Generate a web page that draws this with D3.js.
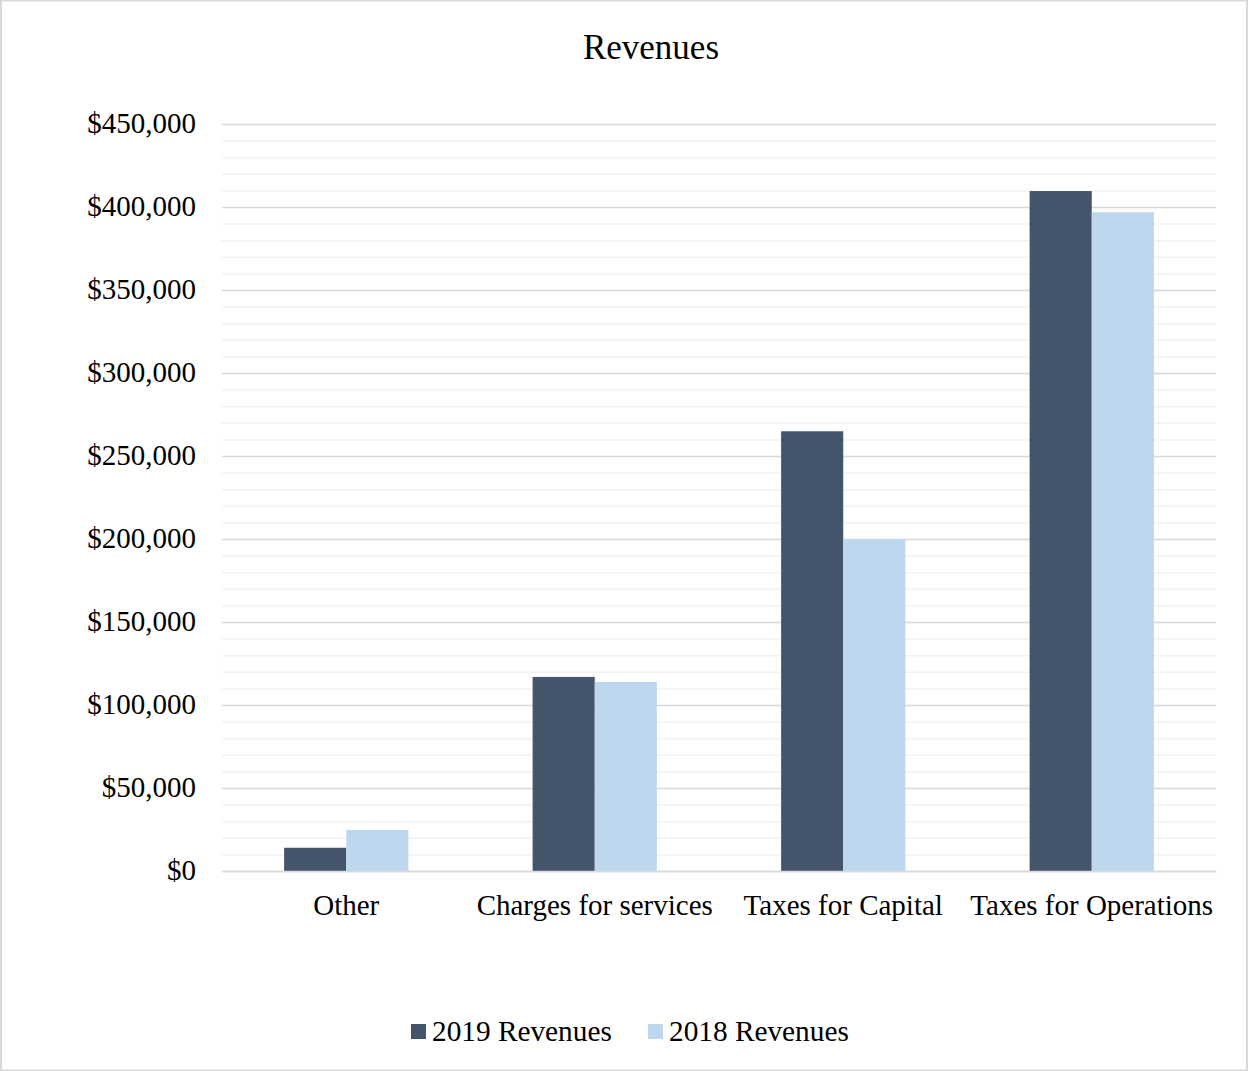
<!DOCTYPE html>
<html>
<head>
<meta charset="utf-8">
<script src="https://cdn.jsdelivr.net/npm/d3@7"></script>
<style>
  html, body { margin: 0; padding: 0; background: #fff; }
  svg text { font-family: "Liberation Serif", "Times New Roman", serif; fill: #000; }
</style>
</head>
<body>
<div id="chart"></div>
<script>
const categories = ['Other', 'Charges for services', 'Taxes for Capital', 'Taxes for Operations'];
const seriesNames = ['2019 Revenues', '2018 Revenues'];
const revenues2019 = [14000, 116900, 264900, 409600];
const revenues2018 = [24700, 113900, 199800, 396800];
const yTicks = [0, 50000, 100000, 150000, 200000, 250000, 300000, 350000, 400000, 450000];
const colors = ['#44546a', '#bdd7ee'];

const W = 1249, H = 1071;
const margin = { top: 124, right: 33, left: 222 };
const width = W - margin.left - margin.right;
const plotH = 871 - margin.top; // plot bottom sits at y=871

const svg = d3.select('#chart').append('svg')
  .attr('width', W)
  .attr('height', H);

// outer border
svg.append('rect')
  .attr('x', 1).attr('y', 0.5)
  .attr('width', W - 3).attr('height', H - 1)
  .attr('fill', '#fff')
  .attr('stroke', '#d9d9d9')
  .attr('stroke-width', 2);

const g = svg.append('g').attr('transform', `translate(${margin.left},${margin.top})`);

const y = d3.scaleLinear().domain([0, 450000]).range([plotH, 0]);
const x0 = d3.scaleBand().domain(categories).range([0, width]).paddingInner(0).paddingOuter(0);
// gap width 100%: bars fill the middle half of each category band
const x1 = d3.scaleBand().domain(seriesNames).range([x0.bandwidth() / 4, x0.bandwidth() * 3 / 4]);

// minor gridlines
g.append('g')
  .call(d3.axisLeft(y).tickValues(d3.range(0, 450001, 10000)).tickSize(-width).tickFormat(''))
  .call(s => s.select('.domain').remove())
  .selectAll('line').attr('stroke', '#f2f2f2').attr('stroke-width', 1.5);

// major gridlines
g.append('g')
  .call(d3.axisLeft(y).tickValues(yTicks).tickSize(-width).tickFormat(''))
  .call(s => s.select('.domain').remove())
  .selectAll('line').attr('stroke', '#d9d9d9').attr('stroke-width', 1.5);

// y labels
const yAxis = g.append('g')
  .call(d3.axisLeft(y).tickValues(yTicks).tickSize(0).tickPadding(26)
    .tickFormat(d => '$' + d3.format(',')(d)));
yAxis.select('.domain').remove();
yAxis.selectAll('text').style('font-size', '29px').attr('font-family', null).attr('dy', '0.3em');

// bars
const groups = g.selectAll('.cat')
  .data(categories)
  .enter().append('g')
  .attr('transform', d => `translate(${x0(d)},0)`);

groups.selectAll('rect')
  .data((d, i) => [
    { s: seriesNames[0], v: revenues2019[i] },
    { s: seriesNames[1], v: revenues2018[i] }
  ])
  .enter().append('rect')
  .attr('x', d => x1(d.s))
  .attr('width', x1.bandwidth())
  .attr('y', d => y(d.v))
  .attr('height', d => plotH - y(d.v))
  .attr('fill', (d, i) => colors[i]);

// x axis
const xAxis = g.append('g')
  .attr('transform', `translate(0,${plotH})`)
  .call(d3.axisBottom(x0).tickSize(0).tickPadding(23));
xAxis.select('.domain').attr('stroke', '#d9d9d9').attr('stroke-width', 1.5);
xAxis.selectAll('text').style('font-size', '29px').attr('font-family', null);

// title
svg.append('text')
  .attr('x', 651).attr('y', 59)
  .attr('text-anchor', 'middle')
  .style('font-size', '35px')
  .text('Revenues');

// legend
const legendX = [411, 648];
const legend = svg.append('g');
seriesNames.forEach((name, i) => {
  legend.append('rect')
    .attr('x', legendX[i]).attr('y', 1024)
    .attr('width', 15).attr('height', 15)
    .attr('fill', colors[i]);
  legend.append('text')
    .attr('x', legendX[i] + 21).attr('y', 1041)
    .style('font-size', '29.3px')
    .text(name);
});
</script>
</body>
</html>
